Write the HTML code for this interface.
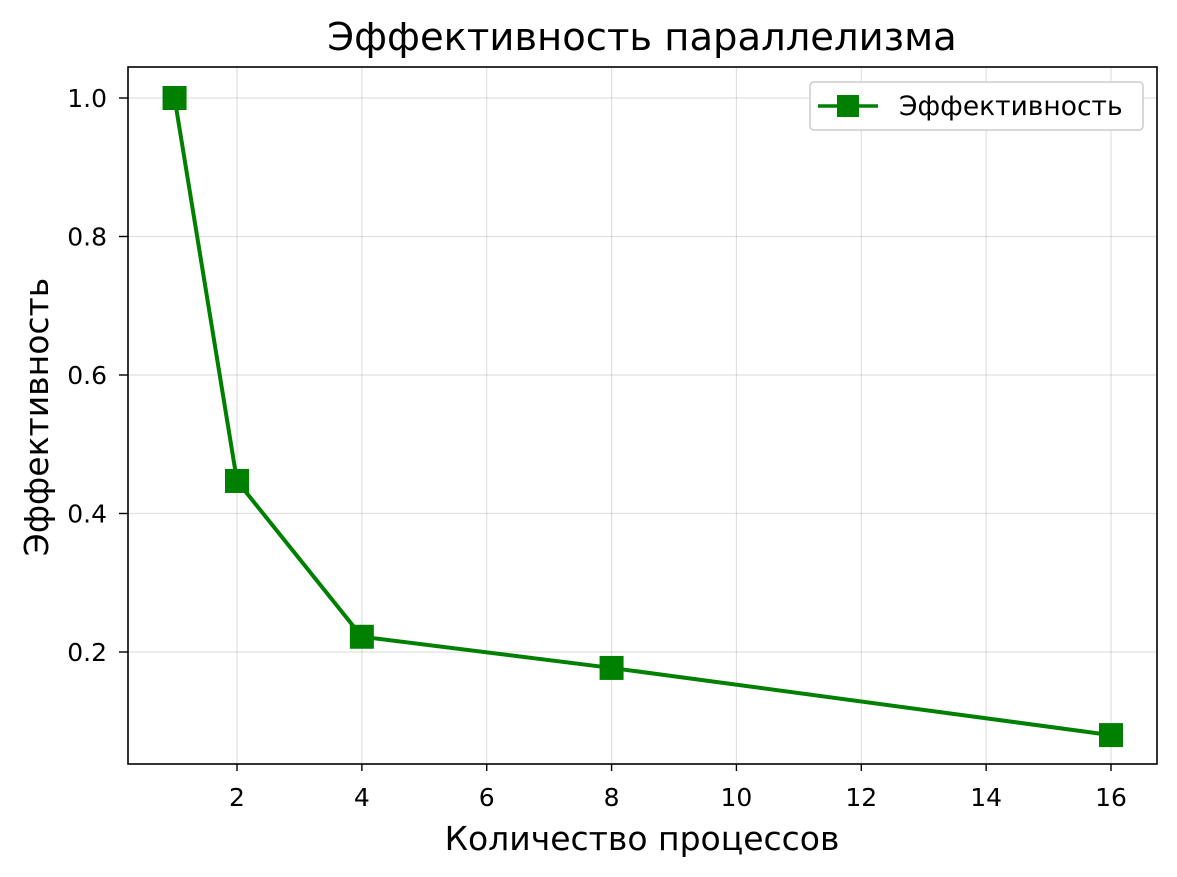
<!DOCTYPE html>
<html><head><meta charset="utf-8"><style>
body{margin:0;background:#fff;}
svg{display:block;font-family:"DejaVu Sans","Liberation Sans",sans-serif;}
</style></head><body>
<svg id="chart" width="1177" height="877">
<rect width="1177" height="877" fill="#fff"/>
<g id="grid"></g>
<g id="ticks"></g>
<rect x="128" y="67" width="1029" height="697" fill="none" stroke="#000" stroke-width="1.6"/>
<g id="series"></g>
<text x="642" y="50" text-anchor="middle" font-size="38.5">Эффективность параллелизма</text>
<text x="642" y="850" text-anchor="middle" font-size="33">Количество процессов</text>
<text transform="translate(48,417) rotate(-90)" text-anchor="middle" font-size="33">Эффективность</text>
<g>
<rect x="810" y="82" width="333" height="48" rx="4" fill="#fff" stroke="#ccc" stroke-width="1.5"/>
<line x1="818" y1="106" x2="878" y2="106" stroke="#008000" stroke-width="3.5"/>
<rect x="837" y="95" width="22" height="22" fill="#008000"/>
<text x="899" y="115" font-size="26.5">Эффективность</text>
</g>
</svg>
<script>
const procs=[1,2,4,8,16];
const efficiency=[1.0,0.447,0.222,0.177,0.080];
const xTicks=[2,4,6,8,10,12,14,16];
const yTicks=[0.2,0.4,0.6,0.8,1.0];
const yTickLabels=["0.2","0.4","0.6","0.8","1.0"];
const NS="http://www.w3.org/2000/svg";
function xs(v){return 237+(v-2)*62.43;}
function ys(v){return 652-(v-0.2)*692.5;}
function mk(t,a,p){const e=document.createElementNS(NS,t);for(const k in a)e.setAttribute(k,a[k]);p.appendChild(e);return e;}
const grid=document.getElementById('grid'),ticks=document.getElementById('ticks'),ser=document.getElementById('series');
xTicks.forEach(v=>{const x=xs(v);
const g=mk('line',{x1:x,x2:x,y1:67,y2:764,stroke:'#000','stroke-opacity':0.12,'stroke-width':1.2},grid);


mk('line',{x1:x,x2:x,y1:764,y2:771,stroke:'#000','stroke-width':1.4},ticks);
const t=mk('text',{x:x,y:806,'text-anchor':'middle','font-size':25},ticks);t.textContent=v;

});
yTicks.forEach((v,i)=>{const y=ys(v);
const g=mk('line',{x1:128,x2:1157,y1:y,y2:y,stroke:'#000','stroke-opacity':0.12,'stroke-width':1.2},grid);


mk('line',{x1:119,x2:128,y1:y,y2:y,stroke:'#000','stroke-width':1.4},ticks);
const t=mk('text',{x:107,y:y+9,'text-anchor':'end','font-size':25},ticks);t.textContent=yTickLabels[i];

});
const pts=procs.map((p,i)=>xs(p)+','+ys(efficiency[i])).join(' ');
const pl=mk('polyline',{points:pts,fill:'none',stroke:'#008000','stroke-width':4,'stroke-linejoin':'round'},ser);


procs.forEach((p,i)=>{const r=mk('rect',{x:xs(p)-12,y:ys(efficiency[i])-12,width:24,height:24,fill:'#008000'},ser);

});
</script>
</body></html>
